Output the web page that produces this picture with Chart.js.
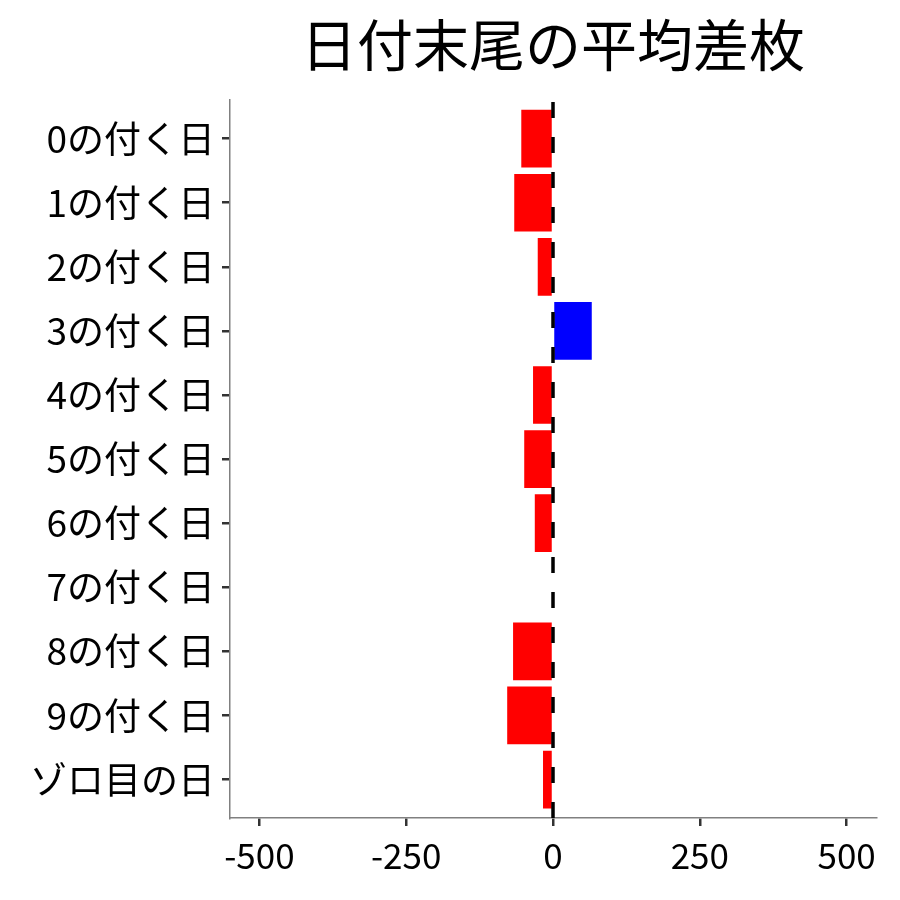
<!DOCTYPE html>
<html>
<head>
<meta charset="utf-8">
<script src="https://cdn.jsdelivr.net/npm/chart.js@4/dist/chart.umd.min.js"></script>
<style>
  html, body { margin: 0; padding: 0; background: #fff; }
  #wrap { width: 900px; height: 900px; }
</style>
</head>
<body>
<div id="wrap"><canvas id="dayChart" width="900" height="900"></canvas></div>
<script>
// categories and values
const dayLabels = ['0の付く日', '1の付く日', '2の付く日', '3の付く日', '4の付く日',
                   '5の付く日', '6の付く日', '7の付く日', '8の付く日', '9の付く日', 'ゾロ目の日'];
const avgDiff = [-54, -66, -26, 66, -34, -49, -31, 0, -68, -78, -17];
const xTicks = [-500, -250, 0, 250, 500];

const FONT = "'Noto Sans CJK JP', 'Noto Sans', sans-serif";

// dashed reference line at zero
const zeroLine = {
    id: 'zeroLine',
    afterDatasetsDraw(chart) {
        const { ctx, chartArea, scales } = chart;
        const x = scales.x.getPixelForValue(0);
        ctx.save();
        ctx.strokeStyle = '#000';
        ctx.lineWidth = 3.5;
        ctx.setLineDash([16, 19]);
        ctx.beginPath();
        ctx.moveTo(x, chartArea.bottom);
        ctx.lineTo(x, chartArea.top);
        ctx.stroke();
        ctx.restore();
    }
};

const ctx = document.getElementById('dayChart').getContext('2d');
new Chart(ctx, {
    type: 'bar',
    data: {
        datasets: [{
            data: avgDiff.map((v, i) => ({ x: v, y: i })),
            backgroundColor: avgDiff.map(v => v > 0 ? '#0000ff' : '#ff0000'),
            borderWidth: 0,
            barPercentage: 0.9,
            categoryPercentage: 1
        }]
    },
    options: {
        indexAxis: 'y',
        responsive: false,
        animation: false,
        layout: { padding: { right: 24 } },
        scales: {
            x: {
                type: 'linear',
                min: -550,
                max: 550,
                afterBuildTicks: (axis) => { axis.ticks = xTicks.map(v => ({ value: v })); },
                afterFit: (scale) => { scale.height = 82; },
                grid: { drawOnChartArea: false, drawTicks: true, tickLength: 8, color: '#333', lineWidth: 2.5 },
                border: { display: true, color: '#808080', width: 1.5 },
                ticks: {
                    color: '#000',
                    padding: 9,
                    font: { family: FONT, size: 35 },
                    callback: (v) => String(v)
                }
            },
            y: {
                type: 'linear',
                reverse: true,
                offset: false,
                min: -0.6,
                max: dayLabels.length - 0.4,
                afterBuildTicks: (axis) => { axis.ticks = dayLabels.map((_, i) => ({ value: i })); },
                afterFit: (scale) => { scale.width = 230; },
                grid: { offset: false, drawOnChartArea: false, drawTicks: true, tickLength: 8, color: '#333', lineWidth: 2.5 },
                border: { display: true, color: '#808080', width: 1.5 },
                ticks: {
                    color: '#000',
                    padding: 7,
                    font: { family: FONT, size: 37 },
                    callback: (v) => dayLabels[v]
                }
            }
        },
        plugins: {
            legend: { display: false },
            tooltip: { enabled: false },
            title: {
                display: true,
                text: '日付末尾の平均差枚',
                fullSize: false,
                color: '#000',
                font: { family: FONT, size: 56, weight: 'normal' },
                padding: { top: 11, bottom: 22 }
            }
        }
    },
    plugins: [zeroLine]
});
</script>
</body>
</html>
